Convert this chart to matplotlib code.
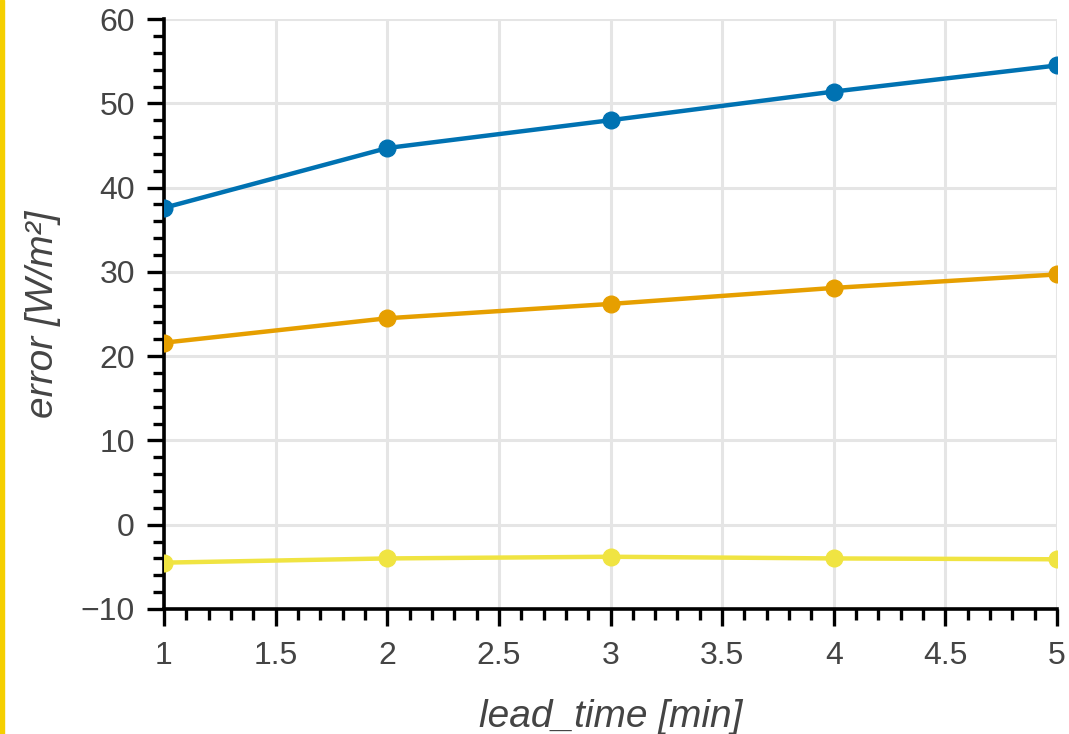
import matplotlib.pyplot as plt
from matplotlib.patches import Rectangle
from matplotlib.ticker import MultipleLocator

# lead time in minutes
lead_time = [1, 2, 3, 4, 5]

# error per model
err_blue = [37.6, 44.7, 48.0, 51.4, 54.5]
err_orange = [21.6, 24.5, 26.2, 28.1, 29.7]
err_yellow = [-4.5, -4.0, -3.8, -4.0, -4.1]

colors = ['#0072B2', '#E69F00', '#F0E442']

plt.rcParams['font.family'] = ['Liberation Sans', 'DejaVu Sans']

fig = plt.figure(figsize=(10.69, 7.34), dpi=100)
ax = fig.add_axes([0.1534, 0.1703, 0.9888 - 0.1534, 0.974 - 0.1703])

for serie, c in zip([err_blue, err_orange, err_yellow], colors):
    ax.plot(lead_time, serie, color=c, lw=3.2, marker='o', ms=12, zorder=3)

ax.set_xlim(1, 5)
ax.set_ylim(-10, 60)
ax.xaxis.set_major_locator(MultipleLocator(0.5))
ax.xaxis.set_minor_locator(MultipleLocator(0.1))
ax.yaxis.set_major_locator(MultipleLocator(10))
ax.yaxis.set_minor_locator(MultipleLocator(2))
ax.xaxis.set_major_formatter(plt.FuncFormatter(lambda v, p: f"{v:g}"))
ax.yaxis.set_major_formatter(plt.FuncFormatter(lambda v, p: f"{v:g}".replace('-', '\u2212')))

ax.grid(True, which='major', color='#e5e5e5', lw=2.2, zorder=0)
ax.set_axisbelow(True)

for s in ['top', 'right']:
    ax.spines[s].set_visible(False)
for s in ['left', 'bottom']:
    ax.spines[s].set_linewidth(2.6)
    ax.spines[s].set_color('black')

ax.tick_params(which='major', direction='out', length=12, width=2.4,
               color='black', labelsize=23, labelcolor='#444444')
ax.tick_params(axis='x', which='major', pad=11)
ax.tick_params(axis='y', which='major', pad=9)
ax.tick_params(which='minor', direction='out', length=8, width=2.4, color='black')

ax.set_xlabel('lead_time [min]', fontsize=28, style='italic', color='#444444', labelpad=20)
ax.set_ylabel('error [W/m\u00b2]', fontsize=28, style='italic', color='#444444', labelpad=14)

# yellow border on the left side
fig.patches.append(Rectangle((0, 0), 4 / 1069, 1, transform=fig.transFigure,
                             color='#F5CF00', zorder=5))

fig.savefig('out.png', dpi=100)
